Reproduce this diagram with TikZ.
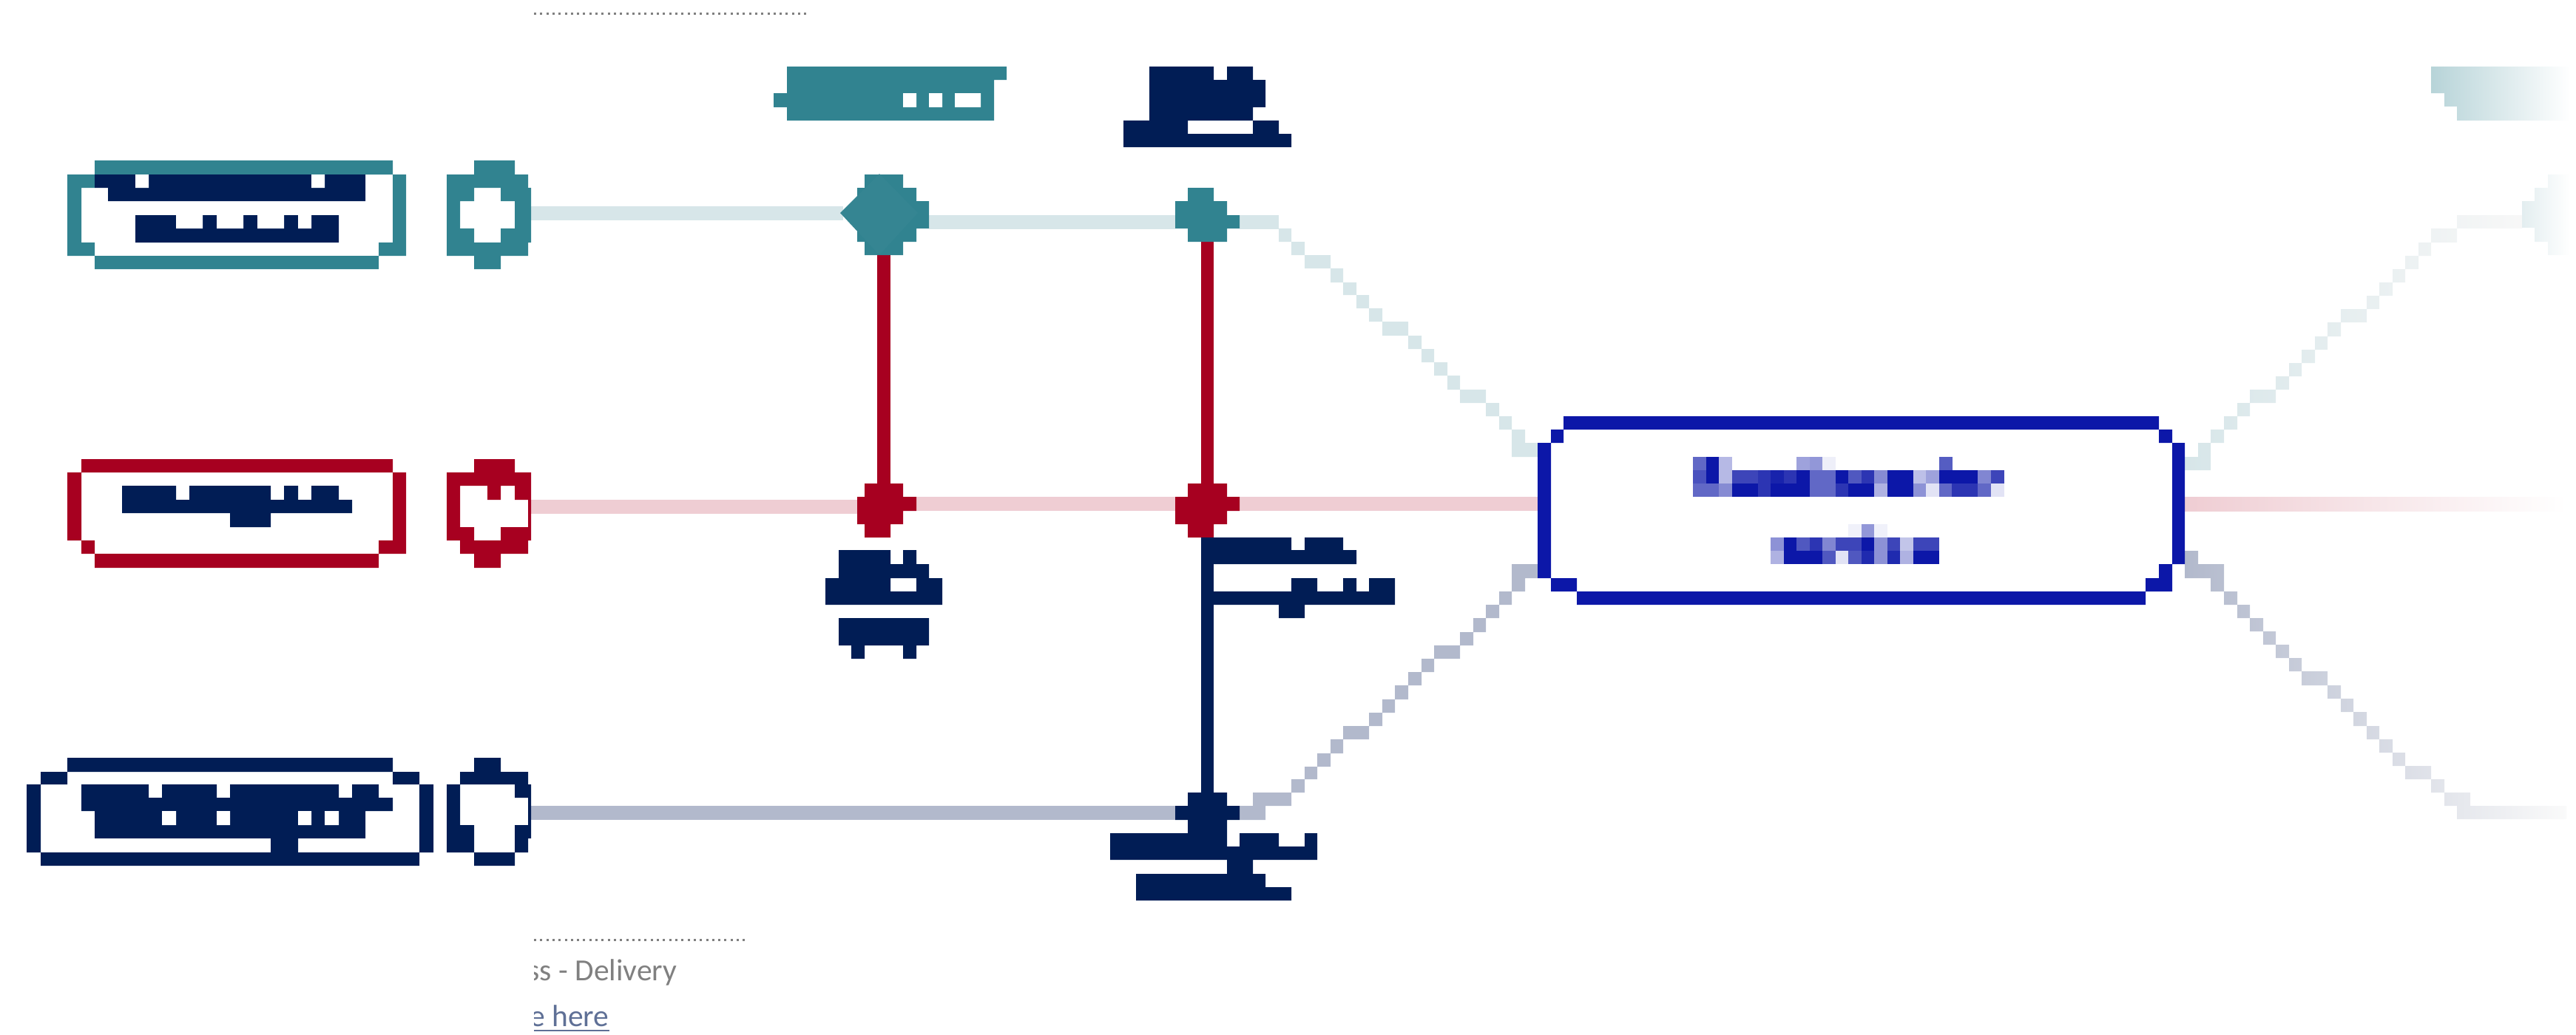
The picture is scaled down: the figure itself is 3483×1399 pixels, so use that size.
\documentclass[tikz,border=0pt]{standalone}
\usepackage{fontspec}
\usepackage{xcolor}
\setmainfont{Carlito}
\definecolor{tealc}{HTML}{318390}
\definecolor{redc}{HTML}{A70020}
\definecolor{navyc}{HTML}{011D55}
\definecolor{boxc}{HTML}{0C17A8}
\definecolor{tealpale}{HTML}{D7E6E9}
\definecolor{redpale}{HTML}{EFCDD3}
\definecolor{navypale}{HTML}{B2B9CC}
\definecolor{linkc}{HTML}{5F7096}
\newcommand{\cells}[1]{\foreach \xa/\ya/\xb/\yb in {#1} {(\xa,\ya) rectangle (\xb,\yb)}}
\newcommand{\tintrow}[2]{\foreach \col/\tint in {#2} \fill[boxc!\tint] ({2289+17.5*\col},#1) rectangle +(18,18);}
\tikzset{
  tealwire/.style={line width=0.19cm,color=tealpale},
  redwire/.style={line width=0.19cm,color=redpale},
  navywire/.style={line width=0.19cm,color=navypale},
  redbar/.style={line width=0.175cm,color=redc},
  navybar/.style={line width=0.175cm,color=navyc},
  dotrule/.style={line width=0.03cm,color=gray,dash pattern=on 0.03cm off 0.053cm},
  footnode/.style={anchor=base east,inner sep=0pt,font=\fontsize{11.8}{14}\selectfont}
}

\begin{document}
\begin{tikzpicture}[x=0.01cm,y=-0.01cm]
\useasboundingbox (0,0) rectangle (3483,1399);

\coordinate (tealring) at (718,288.5);
\coordinate (tealhubw) at (1140,288.5);
\coordinate (tealhubn) at (1195,340);
\coordinate (tealhube) at (1256,300);
\coordinate (tealjointw) at (1589,300);
\coordinate (tealjointe) at (1676,300);
\coordinate (tealjoints) at (1632.5,327);
\coordinate (tealfork) at (1729,300);
\coordinate (redring) at (718,685);
\coordinate (redhubw) at (1160,685);
\coordinate (redhubn) at (1195,654);
\coordinate (redhube) at (1239,681.5);
\coordinate (redjointw) at (1589,681.5);
\coordinate (redjointn) at (1632.5,654);
\coordinate (redjointe) at (1676,681.5);
\coordinate (redjoints) at (1632.5,727);
\coordinate (boxwest) at (2079,681.5);
\coordinate (fadestart) at (2954,672);
\coordinate (fadeend) at (3470,691);
\coordinate (navyring) at (718,1099.5);
\coordinate (navyjointw) at (1589,1099.5);
\coordinate (navyjointn) at (1632.5,1072);

\draw[tealwire] (tealring) -- (tealhubw);
\draw[tealwire] (tealhube) -- (tealjointw);
\draw[tealwire] (tealjointe) -- (tealfork);
\draw[redwire] (redring) -- (redhubw);
\draw[redwire] (redhube) -- (redjointw);
\draw[redwire] (redjointe) -- (boxwest);
\draw[navywire] (navyring) -- (navyjointw);
\draw[redbar] (tealhubn) -- (redhubn);
\draw[redbar] (tealjoints) -- (redjointn);
\draw[navybar] (redjoints) -- (navyjointn);

\fill[tealpale] \cells{1729/309/1746/327,1746/327/1764/345,1764/345/1799/363,1799/363/1816/382,1816/382/1834/399,1834/399/1851/417,1851/417/1869/435,1869/435/1904/454,1904/454/1922/472,1922/472/1939/490,1939/490/1957/508,1957/508/1974/527,1974/527/2009/545,2009/545/2027/563,2027/563/2044/581,2044/581/2062/599,2044/599/2079/618};
\fill[navypale] \cells{1676/1090/1711/1109,1694/1072/1746/1090,1746/1054/1764/1072,1764/1037/1781/1054,1781/1019/1799/1037,1799/1000/1816/1019,1816/982/1851/1000,1851/964/1869/982,1869/946/1886/964,1886/927/1904/946,1904/909/1922/927,1922/891/1939/909,1939/873/1974/891,1974/855/1992/873,1992/836/2009/855,2009/818/2027/836,2027/800/2044/818,2044/782/2062/800,2044/763/2079/782};

\shade[left color=redpale,right color=white] (fadestart) rectangle (fadeend);
\shade[left color=tealpale,right color=black!3!white] \cells{2954/618/2989/636,2972/599/2989/618,2989/581/3007/599,3007/563/3025/581,3025/545/3042/563,3042/527/3077/545,3077/509/3095/527,3095/491/3112/509,3112/473/3130/491,3130/455/3147/473,3147/436/3165/455,3165/418/3200/436,3200/400/3217/418,3217/382/3235/400,3235/364/3252/382,3252/346/3270/364,3270/328/3287/346,3287/309/3322/328,3322/291/3410/309};
\shade[left color=tealpale!70!white,right color=white] \cells{3410/272/3475/308,3427/254/3475/327,3445/236/3475/345};
\shade[left color=tealc!35!white,right color=white] \cells{3287/90/3475/126,3305/126/3475/144,3322/144/3475/163};
\shade[left color=navypale,right color=black!2!white] \cells{2954/745/2972/763,2954/763/3007/782,2989/782/3007/800,3007/800/3025/818,3025/818/3042/836,3042/836/3060/854,3060/854/3077/872,3077/872/3095/890,3095/890/3112/908,3112/908/3147/927,3147/927/3165/945,3165/945/3182/963,3182/963/3200/982,3200/982/3217/1000,3217/1000/3235/1018,3235/1018/3252/1036,3252/1036/3287/1054,3287/1054/3305/1072,3305/1072/3340/1090,3322/1090/3470/1108};

\fill[tealc] \cells{128/217/531/236,91/236/128/254,91/254/110/328,91/328/128/346,128/346/512/364,531/236/549/328,512/328/549/346};
\fill[navyc] \cells{128/236/494/254,146/254/494/272,183/291/458/328};
\fill[white] \cells{183/236/201/254,421/236/439/254,238/291/274/309,293/291/329/309,348/291/384/309,403/291/421/309};
\fill[tealc] \cells{641/217/696/236,604/236/714/254,604/254/641/272,677/254/718/272,604/272/622/309,696/272/718/309,604/309/641/328,677/309/718/328,604/328/714/346,641/346/677/364};

\fill[redc] \cells{110/621/531/639,91/639/110/731,110/731/128/749,128/749/512/768,531/639/549/731,512/731/549/749};
\fill[navyc] \cells{165/657/238/676,256/657/366/676,384/657/403/676,421/657/458/676,165/676/476/694,311/694/366/713};
\fill[redc] \cells{641/621/696/639,604/639/718/657,604/657/622/713,659/657/677/676,696/657/718/676,714/676/718/713,604/713/641/731,677/713/718/731,622/731/714/749,641/749/677/768};

\fill[navyc] \cells{91/1025/531/1044,55/1044/91/1061,531/1044/567/1061,36/1061/55/1153,567/1061/586/1153,55/1153/567/1171};
\fill[navyc] \cells{110/1061/201/1079,219/1061/293/1079,311/1061/458/1079,476/1061/512/1079,110/1079/531/1097,128/1097/494/1134,366/1134/403/1153};
\fill[white] \cells{219/1097/238/1116,293/1097/311/1116,403/1097/421/1116,439/1097/458/1116};
\fill[navyc] \cells{641/1025/677/1044,622/1044/714/1061,604/1061/622/1116,696/1061/718/1079,714/1079/718/1116,604/1116/641/1153,696/1116/718/1134,696/1134/714/1153,641/1153/696/1171};

\fill[tealc] \cells{1064/90/1361/108,1064/108/1344/163,1046/126/1064/145};
\fill[white] \cells{1221/126/1239/145,1256/126/1274/145,1291/126/1326/145};
\fill[navyc] \cells{1554/90/1641/108,1659/90/1694/108,1554/108/1711/145,1554/145/1694/163,1519/163/1606/181,1694/163/1729/181,1519/181/1746/199};

\fill[tealc] \cells{1169/236/1221/254,1159/254/1239/272,1159/272/1256/309,1159/309/1239/327,1169/327/1221/345};
\fill[tealc!98!white] (1136,288) -- (1189,235) -- (1241,288) -- (1189,345) -- cycle;
\fill[tealc] \cells{1606/254/1641/272,1589/272/1659/291,1589/291/1676/309,1606/309/1659/327};

\fill[redc] \cells{1169/654/1221/672,1159/672/1239/691,1159/691/1221/709,1169/709/1204/727};
\fill[redc] \cells{1606/654/1659/672,1589/672/1676/691,1589/691/1659/709,1606/709/1641/727};

\fill[navyc] \cells{1134/744/1204/763,1221/744/1239/763,1134/763/1256/782,1116/782/1204/800,1239/782/1274/800,1116/800/1274/818,1134/836/1256/873,1151/873/1169/891,1221/873/1239/891};
\fill[navyc] \cells{1624/727/1746/745,1764/727/1816/745,1624/744/1834/763,1746/782/1781/800,1816/782/1834/800,1851/782/1886/800,1624/800/1886/818,1729/818/1764/836};
\fill[navyc] \cells{1606/1072/1659/1090,1589/1090/1676/1109,1606/1109/1659/1127,1501/1127/1659/1145,1676/1127/1729/1145,1764/1127/1781/1145,1501/1145/1781/1163,1659/1163/1694/1182,1536/1182/1711/1200,1536/1200/1746/1218};

\fill[boxc] \cells{2114/563/2919/581,2097/581/2114/599,2079/599/2097/782,2097/782/2132/800,2132/800/2901/818,2919/581/2937/599,2937/599/2954/763,2919/763/2937/782,2901/782/2937/800};
\tintrow{618}{0/65,1/100,2/30,8/40,9/45,10/7,19/70}
\tintrow{636}{0/75,1/100,2/30,3/80,4/80,5/87,6/95,7/87,8/100,9/65,10/65,11/100,12/72,13/87,14/50,15/100,16/100,17/27,18/40,19/100,20/100,21/100,22/52,23/80}
\tintrow{654}{0/65,1/65,2/50,3/100,4/100,5/87,6/100,7/100,8/100,9/65,10/65,11/87,12/100,13/100,14/33,15/100,16/100,17/47,18/12,19/65,20/87,21/87,22/65,23/12}
\tintrow{709}{12/6,13/45,14/6}
\tintrow{727}{6/47,7/100,8/72,9/87,10/52,11/80,12/80,13/100,14/47,15/80,16/25,17/80,18/80}
\tintrow{745}{6/33,7/100,8/100,9/100,10/72,11/12,12/72,13/92,14/47,15/92,16/33,17/100,18/100}

\coordinate (topdots) at (722,18);
\coordinate (topdotsend) at (1090,18);
\coordinate (lowdots) at (722,1271);
\coordinate (lowdotsend) at (1007,1271);
\draw[dotrule] (topdots) -- (topdotsend);
\draw[dotrule] (lowdots) -- (lowdotsend);

\begin{scope}
\clip (722,1280) rectangle (1100,1399);
\node[footnode,text=black!50] (delivery) at (916,1326) {ss - Delivery};
\node[footnode,text=linkc] (herelink) at (824,1388) {e here};
\coordinate (herestart) at (722,1394);
\coordinate (hereend) at (herelink.base east |- herestart);
\draw[line width=0.015cm,linkc] (herestart) -- (hereend);
\end{scope}
\end{tikzpicture}
\end{document}
